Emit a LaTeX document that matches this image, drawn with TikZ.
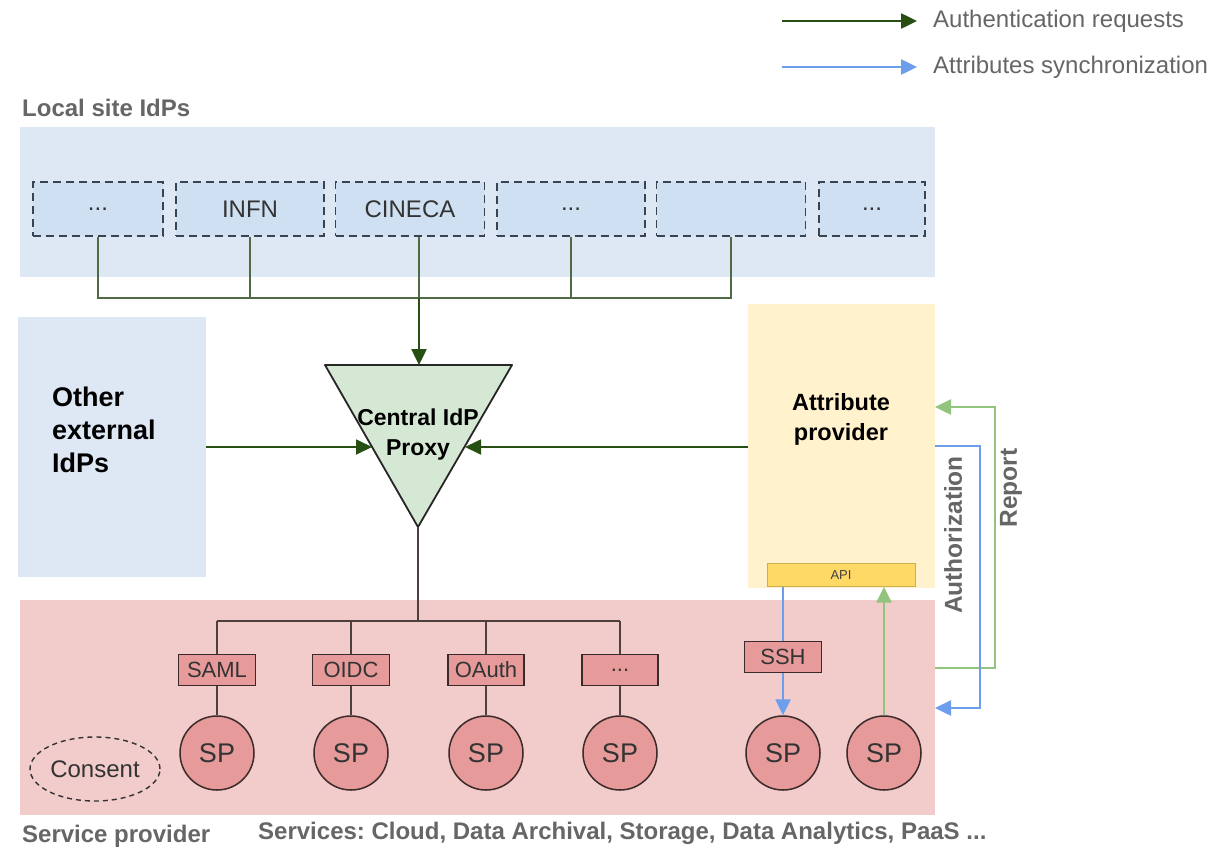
\documentclass[tikz,border=0pt]{standalone}
\usepackage{fontspec}
\setmainfont{Liberation Sans}
\usetikzlibrary{arrows.meta,shapes.geometric}
\definecolor{txtgray}{HTML}{666666}
\definecolor{panelblue}{HTML}{DEE8F5}
\definecolor{boxblue}{HTML}{CFE0F2}
\definecolor{dashgray}{HTML}{3A4450}
\definecolor{authgreen}{HTML}{274E13}
\definecolor{linegreen}{HTML}{4E6B45}
\definecolor{syncblue}{HTML}{6D9EEB}
\definecolor{lightgreen}{HTML}{93C47D}
\definecolor{proxyfill}{HTML}{D5E8D4}
\definecolor{attrfill}{HTML}{FFF2CC}
\definecolor{apifill}{HTML}{FFD966}
\definecolor{spanel}{HTML}{F2CBCB}
\definecolor{spfill}{HTML}{E69A9A}
\definecolor{darkline}{HTML}{3A2A2A}
\frenchspacing
\begin{document}
\begin{tikzpicture}[x=1pt,y=-1pt,
  idpbox/.style={draw=dashgray,fill=boxblue,dashed,dash pattern=on 8pt off 5pt,line width=1.8pt,minimum height=54pt,inner sep=0pt,font=\fontsize{24}{28}\selectfont,text=black!80},
  protobox/.style={draw=darkline,fill=spfill,line width=1.5pt,minimum height=31pt,inner sep=0pt,font=\fontsize{22}{26}\selectfont,text=black!80},
  spnode/.style={circle,draw=darkline,fill=spfill,line width=1.5pt,minimum size=74pt,inner sep=0pt,font=\fontsize{27}{30}\selectfont,text=black!80},
  conn/.style={draw=linegreen,line width=2pt},
  authar/.style={draw=authgreen,line width=2.5pt,-{Triangle[length=16pt,width=15pt]}},
  syncar/.style={draw=syncblue,line width=2.5pt,-{Triangle[length=16pt,width=15pt]}},
  repar/.style={draw=lightgreen,line width=2.5pt,-{Triangle[length=16pt,width=15pt]}},
  graylbl/.style={text=txtgray,font=\fontsize{24}{28}\selectfont\bfseries,inner sep=0pt},
  legtxt/.style={text=txtgray,font=\fontsize{24}{28}\selectfont,anchor=west,inner sep=0pt}
]
\useasboundingbox (0,0) rectangle (1231,849);
\fill[white] (0,0) rectangle (1231,849);

% Legend
\coordinate (l1a) at (782,21); \coordinate (l1b) at (917,21);
\coordinate (l2a) at (782,67); \coordinate (l2b) at (917,67);
\draw[authar] (l1a) -- (l1b);
\draw[syncar] (l2a) -- (l2b);
\node[legtxt] (leg1) at (933,21) {Authentication requests};
\node[legtxt] (leg2) at (933,67) {Attributes synchronization};

% Local site IdPs panel
\node[graylbl,anchor=west] (loclbl) at (22,108) {Local site IdPs};
\node[fill=panelblue,minimum width=915pt,minimum height=150pt,inner sep=0pt,anchor=north west] (localpanel) at (20,127) {};
\node[idpbox,minimum width=130pt] (b1) at (98,209) {...};
\node[idpbox,minimum width=148pt] (b2) at (250,209) {INFN};
\node[idpbox,minimum width=149pt] (b3) at (410,209) {CINECA};
\node[idpbox,minimum width=148pt] (b4) at (571,209) {...};
\node[idpbox,minimum width=149pt] (b5) at (731,209) {};
\node[idpbox,minimum width=106pt] (b6) at (872,209) {...};

% Other external IdPs
\node[fill=panelblue,minimum width=188pt,minimum height=260pt,inner sep=0pt,anchor=north west] (other) at (18,317) {};
\node[font=\fontsize{27}{33}\selectfont\bfseries,align=left,anchor=west,inner sep=0pt] (othertxt) at (52,430) {Other\\external\\IdPs};

% Attribute provider
\node[fill=attrfill,minimum width=187pt,minimum height=284pt,inner sep=0pt,anchor=north west] (attr) at (748,304) {};
\node[font=\fontsize{23.5}{30}\selectfont\bfseries,align=center,inner sep=0pt] (attrtxt) at (841,419) {Attribute\\provider};
\node[fill=apifill,draw=apifill!80!black,line width=0.4pt,minimum width=148pt,minimum height=23pt,inner sep=0pt,font=\fontsize{13}{15}\selectfont,text=black!75] (api) at (841,575) {API};

% Service provider panel
\node[fill=spanel,minimum width=915pt,minimum height=215pt,inner sep=0pt,anchor=north west] (sppanel) at (20,600) {};

% Proxy triangle
\coordinate (ttl) at (325,365); \coordinate (ttr) at (512,365); \coordinate (tbt) at (418,527);
\draw[fill=proxyfill,draw=black!85,line width=1.8pt,line join=round] (ttl) -- (ttr) -- (tbt) -- cycle;
\node[font=\fontsize{23}{30}\selectfont\bfseries,align=center,inner sep=0pt] (proxy) at (418,435) {Central IdP\\Proxy};
\coordinate (ptop) at (419,365);
\coordinate (pleft) at (372,447);
\coordinate (pright) at (465,447);

% IdP connectors
\coordinate (bus1) at (98,298); \coordinate (bus5) at (731,298);
\draw[conn] (b1.south) -- (bus1) -- (bus5) -- (b5.south);
\draw[conn] (b2.south) -- (b2.south |- bus1);
\draw[conn] (b4.south) -- (b4.south |- bus1);
\draw[conn] (b3.south -| ptop) -- (ptop |- bus1);
\draw[authar] (ptop |- bus1) -- (ptop);

\draw[authar,line width=1.8pt] (other.east |- pleft) -- (pleft);
\draw[authar,line width=1.8pt] (attr.west |- pright) -- (pright);

% SPs
\node[spnode] (sp1) at (217,753) {SP};
\node[spnode] (sp2) at (351,753) {SP};
\node[spnode] (sp3) at (486,753) {SP};
\node[spnode] (sp4) at (620,753) {SP};
\node[spnode] (sp5) at (783,753) {SP};
\node[spnode] (sp6) at (884,753) {SP};

% API links (under SSH box)
\draw[syncar] (api.south -| sp5.north) -- (sp5.north);
\draw[repar] (sp6.north) -- (api.south -| sp6.north);

% Protocol boxes
\node[protobox,minimum width=77pt] (saml) at (217,670) {SAML};
\node[protobox,minimum width=77pt] (oidc) at (351,670) {OIDC};
\node[protobox,minimum width=76pt] (oauth) at (486,670) {OAuth};
\node[protobox,minimum width=76pt] (dots) at (620,670) {...};
\node[protobox,minimum width=77pt] (ssh) at (783,657) {SSH};

\node[draw=black!80,dashed,dash pattern=on 5pt off 4pt,line width=1.4pt,ellipse,minimum width=130pt,minimum height=64pt,inner sep=0pt,font=\fontsize{24}{28}\selectfont,text=black!80] (consent) at (95,769) {Consent};

\coordinate (spbus) at (418,621);
\draw[conn,draw=darkline!90] (tbt) -- (spbus);
\draw[conn,draw=darkline!90] (saml.north |- spbus) -- (dots.north |- spbus);
\foreach \p in {saml,oidc,oauth,dots} {
  \draw[conn,draw=darkline!90] (\p.north |- spbus) -- (\p.north);
}
\draw[conn,draw=darkline!90] (saml.south) -- (sp1.north);
\draw[conn,draw=darkline!90] (oidc.south) -- (sp2.north);
\draw[conn,draw=darkline!90] (oauth.south) -- (sp3.north);
\draw[conn,draw=darkline!90] (dots.south) -- (sp4.north);

% Report / Authorization loops
\coordinate (rp1) at (935,668); \coordinate (rp2) at (995,668); \coordinate (rp3) at (995,407); \coordinate (rp4) at (935,407);
\draw[repar] (rp1) -- (rp2) -- (rp3) -- (rp4);
\coordinate (au1) at (935,446); \coordinate (au2) at (980,446); \coordinate (au3) at (980,708); \coordinate (au4) at (935,708);
\draw[syncar] (au1) -- (au2) -- (au3) -- (au4);
\node[graylbl,rotate=90,font=\fontsize{24.5}{28}\selectfont\bfseries] (authlbl) at (953,535) {Authorization};
\node[graylbl,rotate=90,font=\fontsize{24.5}{28}\selectfont\bfseries] (replbl) at (1011,488) {Report};

% Bottom labels
\node[graylbl,anchor=west] (splbl) at (22,836) {Service provider};
\node[graylbl,anchor=west] (svclbl) at (258,833) {Services: Cloud, Data Archival, Storage, Data Analytics, PaaS ...};
\end{tikzpicture}
\end{document}
